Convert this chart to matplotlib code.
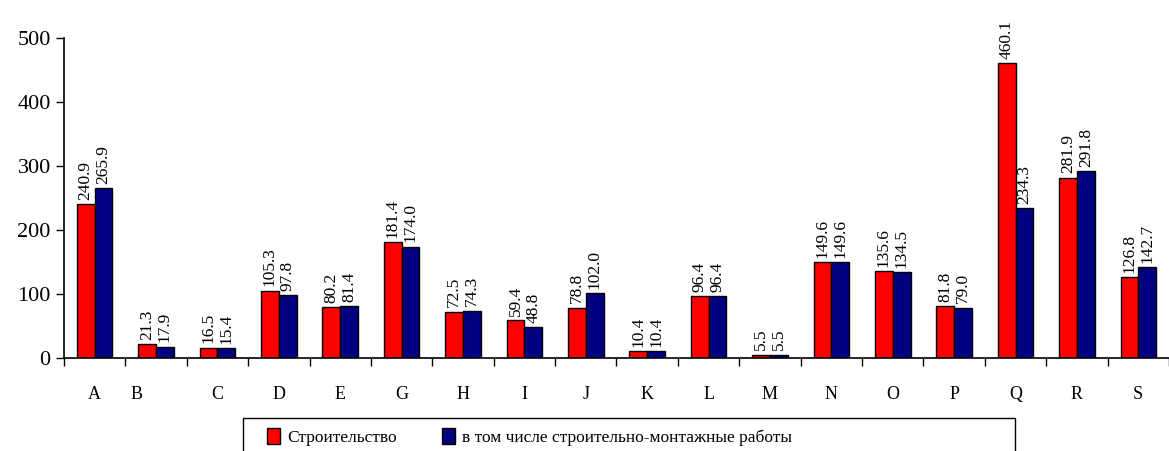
import numpy as np
import matplotlib
import matplotlib.pyplot as plt
import matplotlib.transforms as mtransforms
from matplotlib.patches import Rectangle

matplotlib.use('Agg')

# Данные
categories = ['A', 'B', 'C', 'D', 'E', 'G', 'H', 'I', 'J', 'K', 'L', 'M',
              'N', 'O', 'P', 'Q', 'R', 'S']
stroitelstvo = [240.9, 21.3, 16.5, 105.3, 80.2, 181.4, 72.5, 59.4, 78.8, 10.4,
                96.4, 5.5, 149.6, 135.6, 81.8, 460.1, 281.9, 126.8]
smr = [265.9, 17.9, 15.4, 97.8, 81.4, 174.0, 74.3, 48.8, 102.0, 10.4,
       96.4, 5.5, 149.6, 134.5, 79.0, 234.3, 291.8, 142.7]
series_names = ['Строительство', 'в том числе строительно-монтажные работы']

plt.rcParams['font.family'] = ['Liberation Serif', 'DejaVu Serif']

fig = plt.figure(figsize=(11.69, 4.51), dpi=100)
ax = fig.add_axes([0.0547, 0.206, 0.9453, 0.710])

x = np.arange(len(categories))
w = 0.29
b1 = ax.bar(x - w / 2, stroitelstvo, w, color='#FF0000', edgecolor='black',
            linewidth=1, label=series_names[0])
b2 = ax.bar(x + w / 2, smr, w, color='#000080', edgecolor='black',
            linewidth=1, label=series_names[1])

for bars, vals in ((b1, stroitelstvo), (b2, smr)):
    for rect, v in zip(bars, vals):
        ax.annotate(f'{v:.1f}', (rect.get_x() + rect.get_width() / 2, v),
                    xytext=(0, 3), textcoords='offset points',
                    rotation=90, ha='center', va='bottom', fontsize=12.5,
                    annotation_clip=False)

ax.set_xlim(-0.5, len(categories) - 0.5)
ax.set_ylim(0, 500)
ax.set_yticks(range(0, 501, 100))
ax.tick_params(axis='y', labelsize=16, length=6, width=1, direction='out')

ax.set_xticks(x)
ax.set_xticklabels(categories, fontsize=13)
ax.tick_params(axis='x', which='major', length=0, pad=20)
ax.set_xticks(np.arange(len(categories) + 1) - 0.5, minor=True)
ax.tick_params(axis='x', which='minor', length=6, width=1, direction='out')

# подпись B в оригинале сдвинута влево
lbl_b = ax.get_xticklabels()[1]
lbl_b.set_transform(lbl_b.get_transform() +
                    mtransforms.ScaledTranslation(-0.2, 0, fig.dpi_scale_trans))

for s in ['top', 'right']:
    ax.spines[s].set_visible(False)
ax.spines['left'].set_linewidth(1.2)
ax.spines['bottom'].set_linewidth(1.2)

# рамка легенды шире содержимого и уходит за нижний край
fig.patches.append(Rectangle((243 / 1169, -0.05), (1015 - 243) / 1169,
                             0.05 + (451 - 418) / 451,
                             transform=fig.transFigure, fill=False,
                             edgecolor='black', linewidth=1))

leg = fig.legend(handles=[b1, b2], loc='center left',
                 bbox_to_anchor=(262 / 1169, 1 - 437 / 451), ncol=2,
                 fontsize=12.5, frameon=False,
                 handlelength=0.75, handleheight=1.0, handletextpad=0.4,
                 columnspacing=2.6, borderpad=0.3, borderaxespad=0)

plt.savefig('out.png', dpi=100)
